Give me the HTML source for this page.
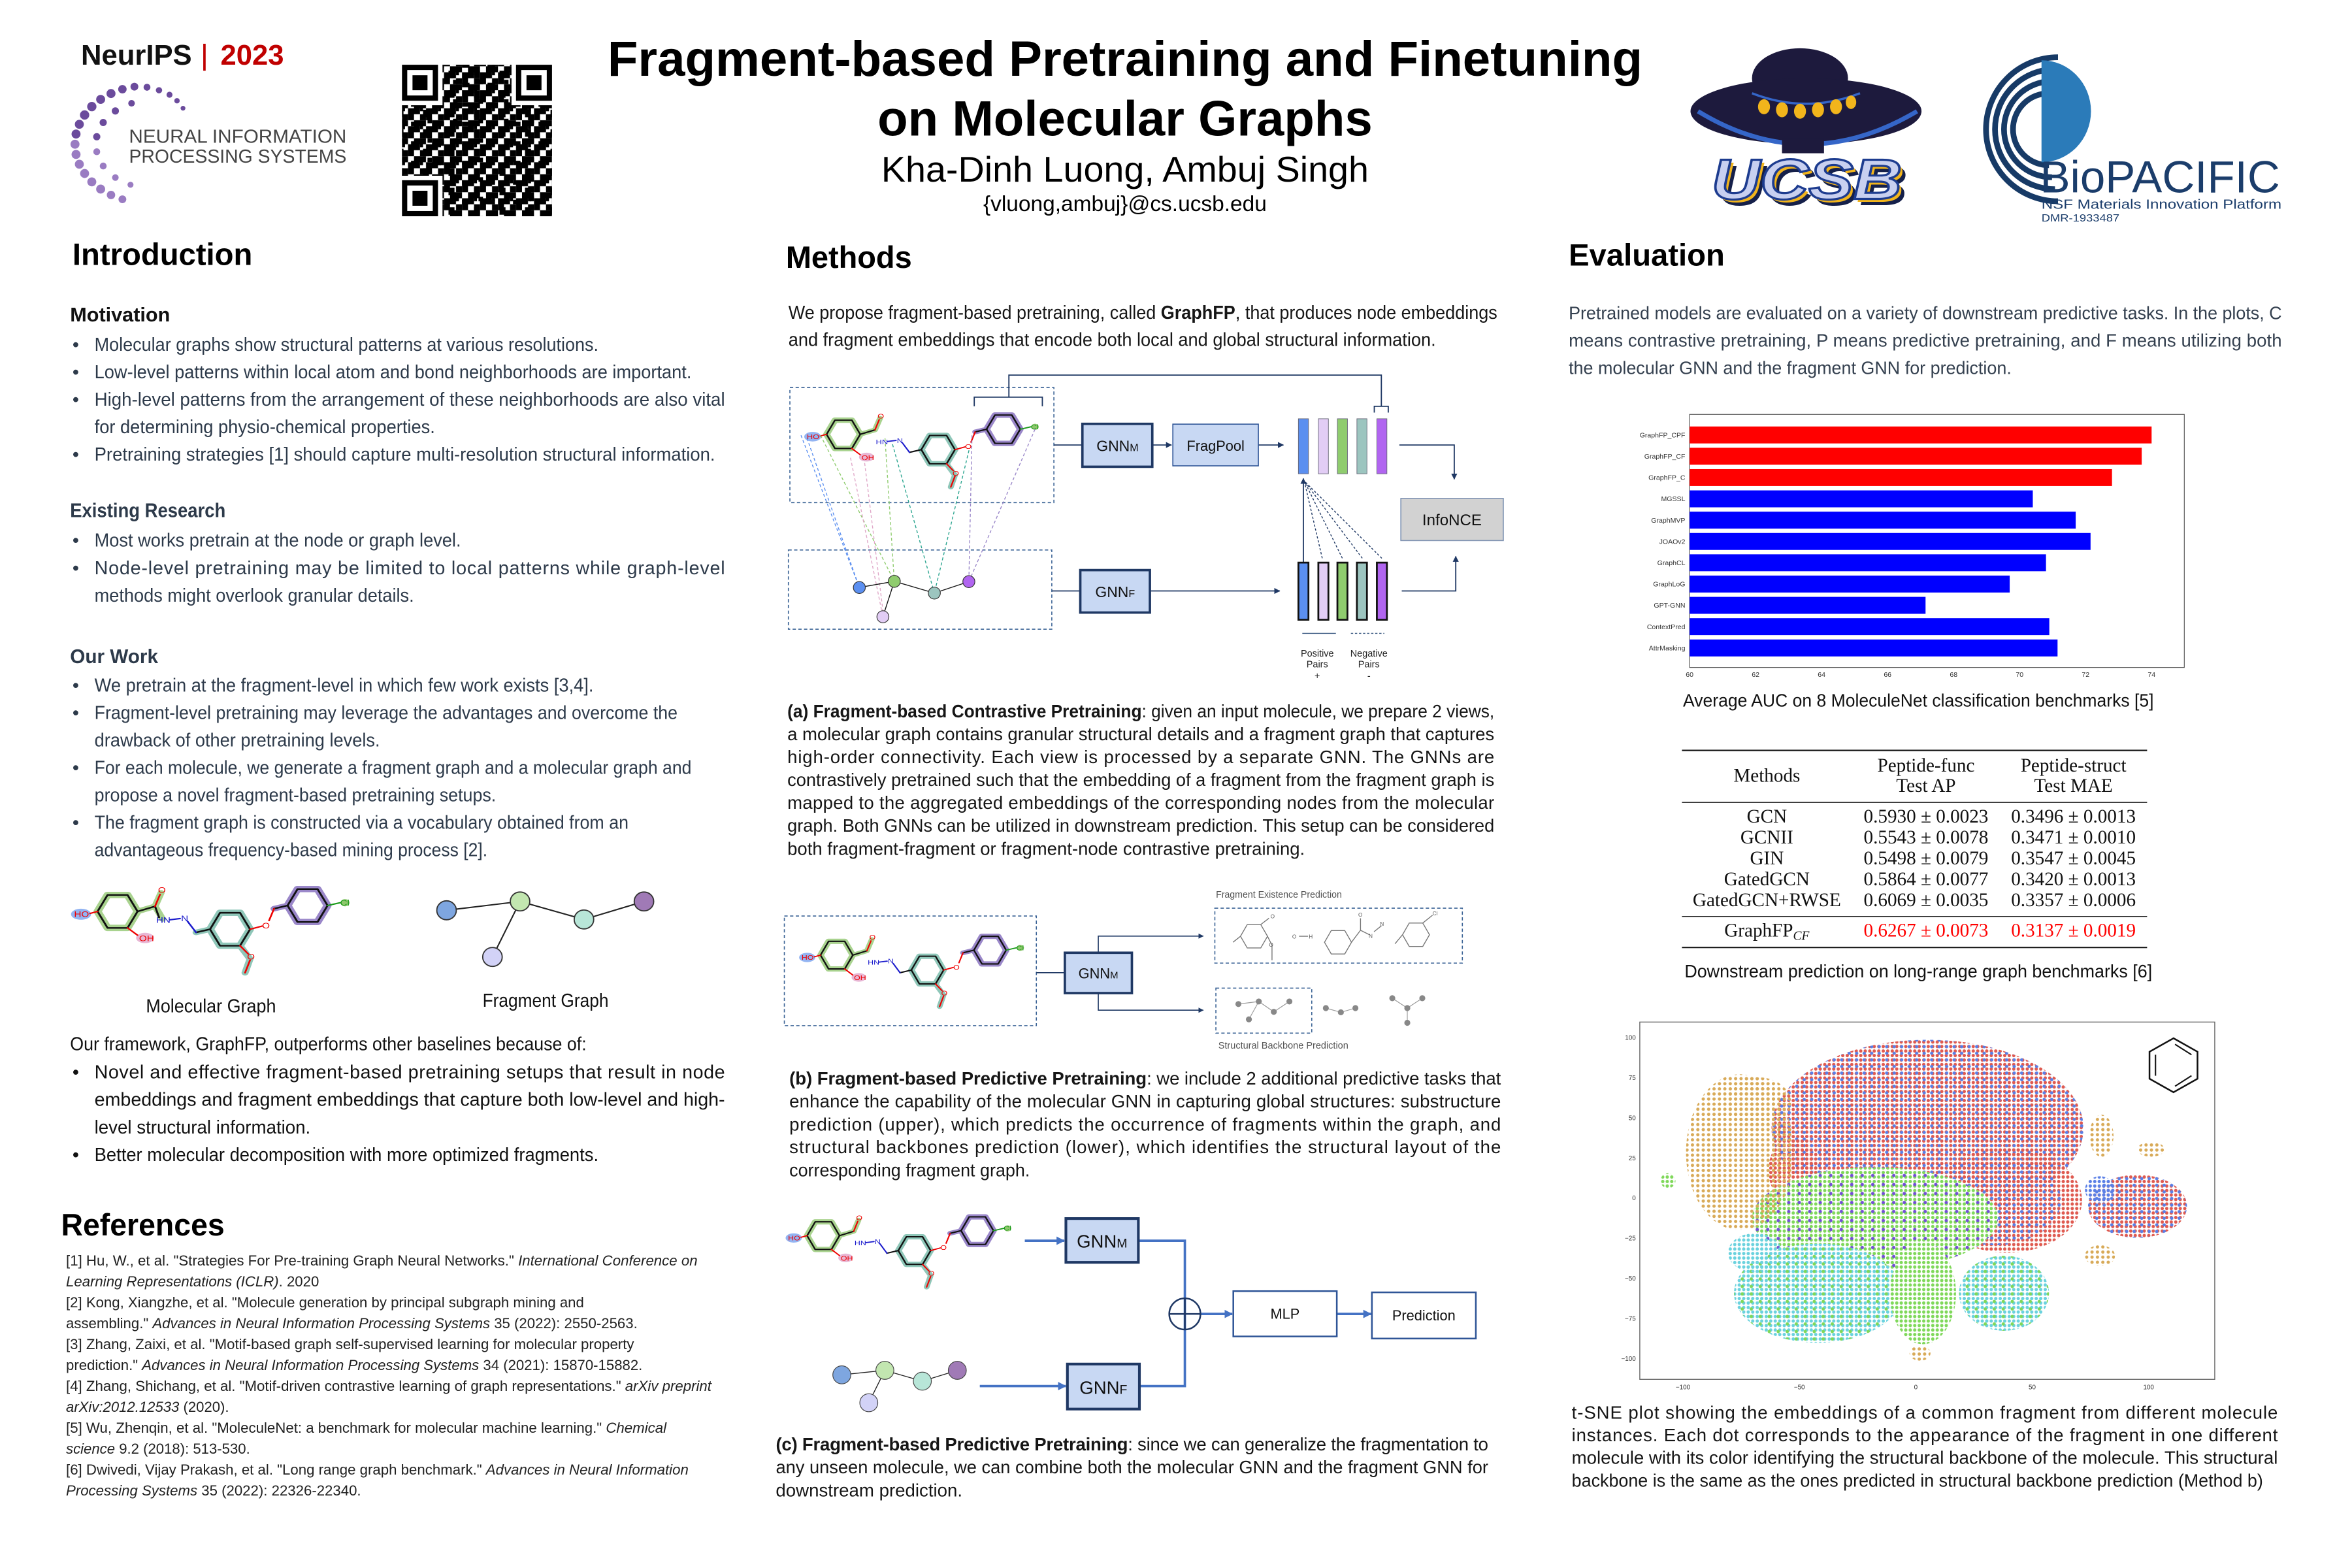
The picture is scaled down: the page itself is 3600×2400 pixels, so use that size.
<!DOCTYPE html>
<html><head><meta charset="utf-8">
<style>
html,body{margin:0;padding:0;background:#fff;width:3600px;height:2400px;overflow:hidden}
svg{display:block}
text{font-family:"Liberation Sans",Arial,sans-serif}
.body{font-size:12.5px;fill:#2d3a4a}
.cap{font-size:12px;fill:#161616}
.ref{font-size:9.6px;fill:#222}
.h{font-size:20.5px;font-weight:bold;fill:#000}
.sub{font-size:13.5px;font-weight:bold}
.ser text,text.ser{font-family:"Liberation Serif","Times New Roman",serif;font-size:12.7px}
.ser{fill:#111}
.tk{font-size:4.6px;fill:#333}
</style></head>
<body>
<svg width="3600" height="2400" viewBox="0 0 1568 1045" xmlns="http://www.w3.org/2000/svg">
<defs>
 <pattern id="qrp" width="12" height="12" patternUnits="userSpaceOnUse">
  <rect x="0" y="0" width="4" height="4"/><rect x="4" y="4" width="4" height="4"/><rect x="8" y="0" width="4" height="8"/>
  <rect x="0" y="8" width="8" height="4"/><rect x="4" y="0" width="2" height="2"/>
 </pattern>
 <pattern id="qrp2" width="17" height="13" patternUnits="userSpaceOnUse">
  <rect x="2" y="3" width="5" height="3"/><rect x="10" y="8" width="4" height="5"/><rect x="13" y="1" width="3" height="3"/>
 </pattern>
 <pattern id="pr" width="3" height="3" patternUnits="userSpaceOnUse"><circle cx="1.5" cy="1.5" r="1.1" fill="#df5a50"/></pattern>
 <pattern id="pb" width="3" height="3" patternUnits="userSpaceOnUse"><circle cx="1.5" cy="1.5" r="1.1" fill="#5a7fe6"/></pattern>
 <pattern id="pb5" width="5" height="4.4" patternUnits="userSpaceOnUse" patternTransform="translate(1.3,0.9)"><circle cx="1.5" cy="1.5" r="1.1" fill="#5a7fe6"/></pattern>
 <pattern id="pg" width="3" height="3" patternUnits="userSpaceOnUse"><circle cx="1.5" cy="1.5" r="1.1" fill="#7fd85a"/></pattern>
 <pattern id="pg6" width="6" height="5" patternUnits="userSpaceOnUse" patternTransform="translate(2,1)"><circle cx="1.5" cy="1.5" r="1.1" fill="#7fd85a"/></pattern>
 <pattern id="pp7" width="7" height="6" patternUnits="userSpaceOnUse" patternTransform="translate(1,2)"><circle cx="1.5" cy="1.5" r="1.1" fill="#7350d6"/></pattern>
 <pattern id="pc" width="3" height="3" patternUnits="userSpaceOnUse"><circle cx="1.5" cy="1.5" r="1.1" fill="#6ad2de"/></pattern>
 <pattern id="pt" width="3.6" height="3.4" patternUnits="userSpaceOnUse"><circle cx="1.5" cy="1.5" r="1.1" fill="#d8aa58"/></pattern>
 <marker id="ar" viewBox="0 0 6 6" refX="5.5" refY="3" markerWidth="5" markerHeight="5" orient="auto"><path d="M0,0 L6,3 L0,6 Z" fill="#1f3864"/></marker>
 <marker id="arb" viewBox="0 0 6 6" refX="5.5" refY="3" markerWidth="3.5" markerHeight="3.5" orient="auto"><path d="M0,0 L6,3 L0,6 Z" fill="#4472c4"/></marker>
</defs>

<!-- ============ HEADER ============ -->
<text x="54" y="43" font-size="19" font-weight="bold" fill="#111">NeurIPS</text>
<rect x="135.5" y="29" width="1.6" height="18" fill="#c00000"/>
<text x="147" y="43" font-size="19" font-weight="bold" fill="#c00000">2023</text>
<g fill="#6b4b9c">
<circle cx="89.6" cy="57.6" r="2.6"/><circle cx="81.6" cy="59.3" r="2.8"/><circle cx="74" cy="62.2" r="3"/><circle cx="67.1" cy="66.1" r="3"/><circle cx="61.2" cy="70.9" r="3.1"/><circle cx="56.4" cy="76.5" r="3.1"/><circle cx="52.9" cy="82.7" r="3"/><circle cx="50.7" cy="89.2" r="3"/>
<circle cx="98" cy="58" r="2.3"/><circle cx="106" cy="60" r="2.1"/><circle cx="113" cy="63" r="2"/><circle cx="118" cy="67" r="1.8"/><circle cx="122" cy="72" r="1.6"/>
<circle cx="87.7" cy="68.7" r="2.2"/><circle cx="76.9" cy="73.8" r="2.4"/><circle cx="68.8" cy="81.5" r="2.4"/><circle cx="64.5" cy="91" r="2.4"/>
</g>
<g fill="#9a7cc2">
<circle cx="50" cy="96" r="3"/><circle cx="50.7" cy="102.8" r="3"/><circle cx="52.9" cy="109.3" r="3"/><circle cx="56.4" cy="115.5" r="3"/><circle cx="61.2" cy="121.1" r="3"/><circle cx="67.1" cy="125.9" r="3"/><circle cx="74" cy="129.8" r="2.8"/><circle cx="81.6" cy="132.7" r="2.6"/>
<circle cx="64.5" cy="101" r="2.3"/><circle cx="68.8" cy="110.5" r="2.3"/><circle cx="76.9" cy="118.2" r="2.2"/><circle cx="87" cy="123" r="2"/>
</g>
<text x="86" y="95" font-size="12.5" fill="#444" textLength="145" lengthAdjust="spacingAndGlyphs">NEURAL INFORMATION</text>
<text x="86" y="108.2" font-size="12.5" fill="#444" textLength="145" lengthAdjust="spacingAndGlyphs">PROCESSING SYSTEMS</text>
<!-- QR -->
<rect x="268" y="43" width="100" height="101" fill="url(#qrp)"/>
<rect x="268" y="43" width="100" height="101" fill="url(#qrp2)"/>
<g>
<rect x="266" y="41" width="29" height="29" fill="#fff"/><rect x="268" y="43" width="24" height="24"/><rect x="271.5" y="46.5" width="17" height="17" fill="#fff"/><rect x="275" y="50" width="10" height="10"/>
<rect x="341" y="41" width="29" height="29" fill="#fff"/><rect x="344" y="43" width="24" height="24"/><rect x="347.5" y="46.5" width="17" height="17" fill="#fff"/><rect x="351" y="50" width="10" height="10"/>
<rect x="266" y="117" width="29" height="29" fill="#fff"/><rect x="268" y="120" width="24" height="24"/><rect x="271.5" y="123.5" width="17" height="17" fill="#fff"/><rect x="275" y="127" width="10" height="10"/>
</g>
<!-- Title -->
<text x="750" y="50.3" font-size="33" font-weight="bold" text-anchor="middle" fill="#000" textLength="690" lengthAdjust="spacingAndGlyphs">Fragment-based Pretraining and Finetuning</text>
<text x="750" y="90.3" font-size="33" font-weight="bold" text-anchor="middle" fill="#000" textLength="330" lengthAdjust="spacingAndGlyphs">on Molecular Graphs</text>
<text x="750" y="121" font-size="24" text-anchor="middle" fill="#000" textLength="325" lengthAdjust="spacingAndGlyphs">Kha-Dinh Luong, Ambuj Singh</text>
<text x="750" y="140.5" font-size="14.5" text-anchor="middle" fill="#000" textLength="189" lengthAdjust="spacingAndGlyphs">{vluong,ambuj}@cs.ucsb.edu</text>
<!-- UCSB hat -->
<ellipse cx="1200" cy="52" rx="32" ry="20" fill="#1d1a3d"/>
<ellipse cx="1204" cy="74" rx="77" ry="22" fill="#1d1a3d"/>
<path d="M1132 74 Q1204 118 1278 74" stroke="#3566c8" stroke-width="3" fill="none"/>
<path d="M1168 62 Q1204 76 1240 62" stroke="#3566c8" stroke-width="1.5" fill="none"/>
<g fill="#f2b51c"><ellipse cx="1176" cy="71" rx="4" ry="5"/><ellipse cx="1188" cy="73" rx="4" ry="5"/><ellipse cx="1200" cy="74" rx="4" ry="5"/><ellipse cx="1212" cy="73" rx="4" ry="5"/><ellipse cx="1224" cy="71" rx="4" ry="5"/><ellipse cx="1234" cy="68" rx="3.5" ry="4.5"/></g>
<rect x="1188" y="92" width="28" height="10" fill="#1d1a3d"/>
<text x="1145" y="136.5" font-size="38" font-weight="bold" font-style="italic" fill="#15204a" textLength="127" lengthAdjust="spacingAndGlyphs">UCSB</text>
<text x="1143" y="134.5" font-size="38" font-weight="bold" font-style="italic" fill="#f2b51c" textLength="127" lengthAdjust="spacingAndGlyphs">UCSB</text>
<text x="1141" y="132.5" font-size="38" font-weight="bold" font-style="italic" fill="#c8d0f0" stroke="#1d3c8f" stroke-width="1.4" textLength="127" lengthAdjust="spacingAndGlyphs">UCSB</text>
<!-- BioPACIFIC -->
<g fill="none" stroke="#173a66" stroke-width="3.8">
<path d="M1372 38 A48 48 0 1 0 1372 134"/>
<path d="M1370 46 A40 40 0 1 0 1370 126"/>
<path d="M1368 54 A32 32 0 1 0 1368 118"/>
<path d="M1366 62 A24 24 0 1 0 1366 110"/>
</g>
<path d="M1361 40 A33 34 0 0 1 1361 108 Z" fill="#2b7bb9"/>
<text x="1360" y="128" font-size="30" fill="#1b3d6b" textLength="160" lengthAdjust="spacingAndGlyphs">BioPACIFIC</text>
<text x="1361" y="139" font-size="9" fill="#1b3d6b" textLength="160" lengthAdjust="spacingAndGlyphs">NSF Materials Innovation Platform</text>
<text x="1361" y="147.5" font-size="7" fill="#1b3d6b" textLength="52" lengthAdjust="spacingAndGlyphs">DMR-1933487</text>

<!-- ============ INTRODUCTION ============ -->
<text class="h" x="48.3" y="176.5" textLength="120" lengthAdjust="spacingAndGlyphs">Introduction</text>
<text class="sub" x="46.7" y="214.1" fill="#111" textLength="66.7" lengthAdjust="spacingAndGlyphs">Motivation</text>
<g class="body">
<text x="48.3" y="233.7">•</text><text x="63" y="233.7" textLength="336" lengthAdjust="spacingAndGlyphs">Molecular graphs show structural patterns at various resolutions.</text>
<text x="48.3" y="252">•</text><text x="63" y="252" textLength="398" lengthAdjust="spacingAndGlyphs">Low-level patterns within local atom and bond neighborhoods are important.</text>
<text x="48.3" y="270.4">•</text><text x="63" y="270.4" textLength="420.3" lengthAdjust="spacingAndGlyphs">High-level patterns from the arrangement of these neighborhoods are also vital</text>
<text x="63" y="288.7" textLength="227" lengthAdjust="spacingAndGlyphs">for determining physio-chemical properties.</text>
<text x="48.3" y="307">•</text><text x="63" y="307" textLength="413.7" lengthAdjust="spacingAndGlyphs">Pretraining strategies [1] should capture multi-resolution structural information.</text>
</g>
<text class="sub" x="46.7" y="344.6" fill="#2d3a4a" textLength="103.7" lengthAdjust="spacingAndGlyphs">Existing Research</text>
<g class="body">
<text x="48.3" y="364.2">•</text><text x="63" y="364.2" textLength="244.3" lengthAdjust="spacingAndGlyphs">Most works pretrain at the node or graph level.</text>
<text x="48.3" y="382.6">•</text><text x="63" y="382.6" textLength="420.3" lengthAdjust="spacing">Node-level pretraining may be limited to local patterns while graph-level</text>
<text x="63" y="400.9" textLength="213" lengthAdjust="spacingAndGlyphs">methods might overlook granular details.</text>
</g>
<text class="sub" x="46.7" y="441.9" fill="#2d3a4a" textLength="58.7" lengthAdjust="spacingAndGlyphs">Our Work</text>
<g class="body">
<text x="48.3" y="460.9">•</text><text x="63" y="460.9" textLength="332.7" lengthAdjust="spacingAndGlyphs">We pretrain at the fragment-level in which few work exists [3,4].</text>
<text x="48.3" y="479.2">•</text><text x="63" y="479.2" textLength="388.7" lengthAdjust="spacingAndGlyphs">Fragment-level pretraining may leverage the advantages and overcome the</text>
<text x="63" y="497.5" textLength="190.3" lengthAdjust="spacingAndGlyphs">drawback of other pretraining levels.</text>
<text x="48.3" y="515.8">•</text><text x="63" y="515.8" textLength="398" lengthAdjust="spacingAndGlyphs">For each molecule, we generate a fragment graph and a molecular graph and</text>
<text x="63" y="534.1" textLength="267.7" lengthAdjust="spacingAndGlyphs">propose a novel fragment-based pretraining setups.</text>
<text x="48.3" y="552.4">•</text><text x="63" y="552.4" textLength="356" lengthAdjust="spacingAndGlyphs">The fragment graph is constructed via a vocabulary obtained from an</text>
<text x="63" y="570.7" textLength="262" lengthAdjust="spacingAndGlyphs">advantageous frequency-based mining process [2].</text>
</g>

<!-- Molecule (intro) -->
<svg x="46.7" y="589" width="190" height="62" viewBox="140 15 570 235" preserveAspectRatio="none">
<g fill="none" stroke-linecap="round" stroke-linejoin="round">
<ellipse cx="162" cy="92" rx="20" ry="14" fill="#93b4f2" stroke="none"/><ellipse cx="290" cy="152" rx="18" ry="13" fill="#e8b6d4" stroke="none"/>
<polygon points="275,85 255,126.6 215,126.6 195,85 215,43.4 255,43.4" stroke="#a9d38f" stroke-width="16"/>
<polyline points="275,85 310,72 322,38" stroke="#a9d38f" stroke-width="14"/><polyline points="310,72 325,104" stroke="#a9d38f" stroke-width="14"/>
<polygon points="500,130 480,171.6 440,171.6 420,130 440,88.4 480,88.4" stroke="#8fc7b9" stroke-width="16"/>
<polyline points="392,138 420,130" stroke="#8fc7b9" stroke-width="14"/><polyline points="480,171.6 500,205 490,240" stroke="#8fc7b9" stroke-width="14"/>
<polygon points="655,70 635,111.6 595,111.6 575,70 595,28.4 635,28.4" stroke="#9a87c9" stroke-width="16"/>
<polyline points="548,78 575,70" stroke="#9a87c9" stroke-width="14"/><circle cx="690" cy="63" r="9" fill="#8fc76d" stroke="none"/>
<g stroke="#111" stroke-width="4">
<polygon points="275,85 255,126.6 215,126.6 195,85 215,43.4 255,43.4"/>
<polyline points="275,85 310,72"/><polyline points="310,72 318,100"/><polyline points="392,138 420,130"/>
<polygon points="500,130 480,171.6 440,171.6 420,130 440,88.4 480,88.4"/>
<polyline points="548,78 575,70"/>
<polygon points="655,70 635,111.6 595,111.6 575,70 595,28.4 635,28.4"/>
</g>
<g stroke="#e00" stroke-width="3.5"><polyline points="195,85 180,90"/><polyline points="255,126.6 275,145"/><polyline points="310,72 320,42"/><polyline points="500,130 524,122"/><polyline points="538,108 548,78"/><polyline points="480,171.6 496,192"/><polyline points="500,208 490,240"/></g>
<g stroke="#1a1acc" stroke-width="3.5"><polyline points="340,106 360,103"/><polyline points="375,110 392,138"/></g>
<polyline points="655,70 680,63" stroke="#1a9a1a" stroke-width="3.5"/>
</g>
<g font-size="20" font-family="Liberation Sans,sans-serif">
<text x="148" y="99" fill="#e00">HO</text><text x="278" y="160" fill="#e00">OH</text><text x="316" y="38" fill="#e00">O</text>
<text x="312" y="114" fill="#1a1acc">HN</text><text x="362" y="110" fill="#1a1acc">N</text>
<text x="524" y="128" fill="#e00">O</text><text x="494" y="206" fill="#e00">O</text><text x="680" y="70" fill="#1a9a1a">Cl</text>
</g>
</svg>
<!-- Fragment graph (intro) -->
<g stroke="#222" stroke-width="0.9"><line x1="297.7" y1="606.7" x2="346.7" y2="600.8"/><line x1="346.7" y1="600.8" x2="389.3" y2="612.8"/><line x1="389.3" y1="612.8" x2="429.3" y2="600.8"/><line x1="346.7" y1="600.8" x2="328.3" y2="637.8"/></g>
<g stroke="#333" stroke-width="0.8">
<ellipse cx="297.7" cy="606.7" rx="6.5" ry="6.3" fill="#7ea6e0"/><ellipse cx="346.7" cy="600.8" rx="6.5" ry="6.3" fill="#c2e6b0"/><ellipse cx="389.3" cy="612.8" rx="6.5" ry="6.3" fill="#b8e6d8"/><ellipse cx="429.3" cy="600.8" rx="6.5" ry="6.3" fill="#a07ab6"/><ellipse cx="328.3" cy="637.8" rx="6.5" ry="6.3" fill="#d2d2f7"/>
</g>
<text x="97.3" y="674.7" font-size="12.5" fill="#111" textLength="86.7" lengthAdjust="spacingAndGlyphs">Molecular Graph</text>
<text x="321.7" y="671.1" font-size="12.5" fill="#111" textLength="84" lengthAdjust="spacingAndGlyphs">Fragment Graph</text>
<g class="body" style="fill:#111">
<text x="46.7" y="700.1" textLength="344.3" lengthAdjust="spacingAndGlyphs">Our framework, GraphFP, outperforms other baselines because of:</text>
<text x="48.3" y="718.8">•</text><text x="63" y="718.8" textLength="420.3" lengthAdjust="spacing">Novel and effective fragment-based pretraining setups that result in node</text>
<text x="63" y="737.1" textLength="420.3" lengthAdjust="spacing">embeddings and fragment embeddings that capture both low-level and high-</text>
<text x="63" y="755.5" textLength="144" lengthAdjust="spacingAndGlyphs">level structural information.</text>
<text x="48.3" y="773.8">•</text><text x="63" y="773.8" textLength="336" lengthAdjust="spacingAndGlyphs">Better molecular decomposition with more optimized fragments.</text>
</g>
<!-- References -->
<text class="h" x="40.7" y="823.5" textLength="109" lengthAdjust="spacingAndGlyphs">References</text>
<g class="ref">
<text x="44" y="843.5" textLength="421" lengthAdjust="spacingAndGlyphs">[1] Hu, W., et al. "Strategies For Pre-training Graph Neural Networks." <tspan font-style="italic">International Conference on</tspan></text>
<text x="44" y="857.4" textLength="168.7" lengthAdjust="spacingAndGlyphs"><tspan font-style="italic">Learning Representations (ICLR)</tspan>. 2020</text>
<text x="44" y="871.4" textLength="345.3" lengthAdjust="spacingAndGlyphs">[2] Kong, Xiangzhe, et al. "Molecule generation by principal subgraph mining and</text>
<text x="44" y="885.3" textLength="381" lengthAdjust="spacingAndGlyphs">assembling." <tspan font-style="italic">Advances in Neural Information Processing Systems</tspan> 35 (2022): 2550-2563.</text>
<text x="44" y="899.3" textLength="378.7" lengthAdjust="spacingAndGlyphs">[3] Zhang, Zaixi, et al. "Motif-based graph self-supervised learning for molecular property</text>
<text x="44" y="913.2" textLength="384.3" lengthAdjust="spacingAndGlyphs">prediction." <tspan font-style="italic">Advances in Neural Information Processing Systems</tspan> 34 (2021): 15870-15882.</text>
<text x="44" y="927.1" textLength="430.3" lengthAdjust="spacingAndGlyphs">[4] Zhang, Shichang, et al. "Motif-driven contrastive learning of graph representations." <tspan font-style="italic">arXiv preprint</tspan></text>
<text x="44" y="941.1" textLength="108.7" lengthAdjust="spacingAndGlyphs"><tspan font-style="italic">arXiv:2012.12533</tspan> (2020).</text>
<text x="44" y="955" textLength="400.3" lengthAdjust="spacingAndGlyphs">[5] Wu, Zhenqin, et al. "MoleculeNet: a benchmark for molecular machine learning." <tspan font-style="italic">Chemical</tspan></text>
<text x="44" y="969" textLength="122.7" lengthAdjust="spacingAndGlyphs"><tspan font-style="italic">science</tspan> 9.2 (2018): 513-530.</text>
<text x="44" y="982.9" textLength="415" lengthAdjust="spacingAndGlyphs">[6] Dwivedi, Vijay Prakash, et al. "Long range graph benchmark." <tspan font-style="italic">Advances in Neural Information</tspan></text>
<text x="44" y="996.9" textLength="196.7" lengthAdjust="spacingAndGlyphs"><tspan font-style="italic">Processing Systems</tspan> 35 (2022): 22326-22340.</text>
</g>

<!-- ============ METHODS ============ -->
<text class="h" x="523.9" y="178.5" textLength="84" lengthAdjust="spacingAndGlyphs">Methods</text>
<g class="cap" style="font-size:12.3px">
<text x="525.6" y="212.3" textLength="472.6" lengthAdjust="spacingAndGlyphs">We propose fragment-based pretraining, called <tspan font-weight="bold">GraphFP</tspan>, that produces node embeddings</text>
<text x="525.6" y="230.4" textLength="431.6" lengthAdjust="spacingAndGlyphs">and fragment embeddings that encode both local and global structural information.</text>
</g>
<!-- Diagram (a) -->
<rect x="526.6" y="258.2" width="176" height="76.7" fill="none" stroke="#3c6496" stroke-width="0.7" stroke-dasharray="2.2,1.6"/>
<rect x="525.6" y="366.5" width="175.6" height="52.8" fill="none" stroke="#3c6496" stroke-width="0.7" stroke-dasharray="2.2,1.6"/>
<g fill="none" stroke="#1f3864" stroke-width="0.8">
<polyline points="672.6,264.6 672.6,249.9 920.9,249.9 920.9,270.7"/>
<polyline points="649.5,270.7 649.5,264.6 694.9,264.6 694.9,270.7"/>
<polyline points="916.2,274.9 916.2,270.7 925.5,270.7 925.5,274.9"/>
</g>
<svg x="535.6" y="273.5" width="160" height="53.3" viewBox="140 15 570 235" preserveAspectRatio="none">
<g fill="none" stroke-linecap="round" stroke-linejoin="round">
<ellipse cx="162" cy="92" rx="20" ry="14" fill="#93b4f2" stroke="none"/><ellipse cx="290" cy="152" rx="18" ry="13" fill="#e8b6d4" stroke="none"/>
<polygon points="275,85 255,126.6 215,126.6 195,85 215,43.4 255,43.4" stroke="#a9d38f" stroke-width="16"/>
<polyline points="275,85 310,72 322,38" stroke="#a9d38f" stroke-width="14"/>
<polygon points="500,130 480,171.6 440,171.6 420,130 440,88.4 480,88.4" stroke="#8fc7b9" stroke-width="16"/>
<polyline points="480,171.6 500,205 490,240" stroke="#8fc7b9" stroke-width="14"/>
<polygon points="655,70 635,111.6 595,111.6 575,70 595,28.4 635,28.4" stroke="#9a87c9" stroke-width="16"/>
<polyline points="548,78 575,70" stroke="#9a87c9" stroke-width="14"/><circle cx="690" cy="63" r="9" fill="#8fc76d" stroke="none"/>
<g stroke="#111" stroke-width="4">
<polygon points="275,85 255,126.6 215,126.6 195,85 215,43.4 255,43.4"/><polyline points="275,85 310,72"/><polyline points="392,138 420,130"/>
<polygon points="500,130 480,171.6 440,171.6 420,130 440,88.4 480,88.4"/><polyline points="548,78 575,70"/>
<polygon points="655,70 635,111.6 595,111.6 575,70 595,28.4 635,28.4"/></g>
<g stroke="#e00" stroke-width="3.5"><polyline points="195,85 180,90"/><polyline points="255,126.6 275,145"/><polyline points="310,72 320,42"/><polyline points="500,130 524,122"/><polyline points="538,108 548,78"/><polyline points="480,171.6 496,192"/><polyline points="500,208 490,240"/></g>
<g stroke="#1a1acc" stroke-width="3.5"><polyline points="340,106 360,103"/><polyline points="375,110 392,138"/></g>
<polyline points="655,70 680,63" stroke="#1a9a1a" stroke-width="3.5"/>
</g>
<g font-size="20" font-family="Liberation Sans,sans-serif"><text x="148" y="99" fill="#e00">HO</text><text x="278" y="160" fill="#e00">OH</text><text x="316" y="38" fill="#e00">O</text><text x="312" y="114" fill="#1a1acc">HN</text><text x="362" y="110" fill="#1a1acc">N</text><text x="524" y="128" fill="#e00">O</text><text x="494" y="206" fill="#e00">O</text><text x="680" y="70" fill="#1a9a1a">Cl</text></g>
</svg>
<!-- dashed correspondences -->
<g fill="none" stroke-width="0.6" stroke-dasharray="2,1.5">
<line x1="534" y1="290" x2="572.9" y2="391.5" stroke="#5b8ff0"/><line x1="538" y1="292" x2="572" y2="389" stroke="#5b8ff0"/>
<line x1="547" y1="290" x2="596.2" y2="387.4" stroke="#8fcc6e"/><line x1="590" y1="292" x2="596.2" y2="387.4" stroke="#8fcc6e"/>
<line x1="567" y1="305" x2="588.6" y2="411" stroke="#e0a7c8"/><line x1="576" y1="305" x2="589" y2="410" stroke="#e0a7c8"/>
<line x1="595" y1="296" x2="622.9" y2="395.2" stroke="#2aa58f"/><line x1="646" y1="300" x2="622.9" y2="395.2" stroke="#2aa58f"/>
<line x1="648" y1="290" x2="645.9" y2="387.6" stroke="#9a87c9"/><line x1="690" y1="286" x2="645.9" y2="387.6" stroke="#9a87c9"/>
</g>
<g stroke="#111" stroke-width="0.6"><line x1="572.9" y1="391.5" x2="596.2" y2="387.4"/><line x1="596.2" y1="387.4" x2="622.9" y2="395.2"/><line x1="622.9" y1="395.2" x2="645.9" y2="387.6"/><line x1="596.2" y1="387.4" x2="588.6" y2="411"/></g>
<g stroke="#333" stroke-width="0.5"><circle cx="572.9" cy="391.5" r="4" fill="#5b8ff0"/><circle cx="596.2" cy="387.4" r="4" fill="#8fcc6e"/><circle cx="622.9" cy="395.2" r="4" fill="#9cc5bf"/><circle cx="645.9" cy="387.6" r="4" fill="#b165f0"/><circle cx="588.6" cy="411" r="4" fill="#e2cdf5"/></g>
<!-- flow -->
<g fill="none" stroke="#1f3864" stroke-width="0.8">
<line x1="702.6" y1="296.5" x2="721.6" y2="296.5"/>
<line x1="768.2" y1="296.5" x2="781" y2="296.5" marker-end="url(#ar)"/>
<line x1="838.9" y1="296.5" x2="855.6" y2="296.5" marker-end="url(#ar)"/>
<line x1="701.2" y1="393.8" x2="720.2" y2="393.8"/>
<line x1="766.6" y1="393.8" x2="853.2" y2="393.8" marker-end="url(#ar)"/>
<polyline points="932.9,296.5 969.5,296.5 969.5,319.3" marker-end="url(#ar)"/>
<polyline points="934.5,393.8 970.5,393.8 970.5,370.7" marker-end="url(#ar)"/>
<line x1="868.9" y1="374.9" x2="868.9" y2="318.8" marker-end="url(#ar)"/>
</g>
<g fill="none" stroke="#1f3864" stroke-width="0.6" stroke-dasharray="1.5,1.2">
<line x1="881.5" y1="372" x2="869.5" y2="320.5"/><line x1="894.9" y1="372" x2="869.5" y2="320.5"/><line x1="908.2" y1="372" x2="869.5" y2="320.5"/><line x1="921.2" y1="372" x2="869.5" y2="320.5"/>
</g>
<rect x="721.6" y="282.4" width="46.6" height="28.6" fill="#c8d8f3" stroke="#1f3864" stroke-width="1.6"/>
<text x="745" y="300.5" font-size="10" text-anchor="middle" fill="#111">GNN<tspan font-size="7">M</tspan></text>
<rect x="781.9" y="282.6" width="57" height="27.8" fill="#c8d8f3" stroke="#2f5597" stroke-width="0.7"/>
<text x="810.4" y="300.3" font-size="9.5" text-anchor="middle" fill="#111">FragPool</text>
<rect x="720.2" y="379.9" width="46.4" height="28.3" fill="#c8d8f3" stroke="#1f3864" stroke-width="1.6"/>
<text x="743.4" y="398" font-size="10" text-anchor="middle" fill="#111">GNN<tspan font-size="7">F</tspan></text>
<rect x="933.9" y="332.1" width="68.3" height="28.1" fill="#d2d2d2" stroke="#7f93b3" stroke-width="0.7"/>
<text x="968" y="350" font-size="10.5" text-anchor="middle" fill="#111">InfoNCE</text>
<g stroke="#667" stroke-width="0.4">
<rect x="865.6" y="279" width="6.7" height="36.7" fill="#5b8ff0"/><rect x="878.9" y="279" width="6.7" height="36.7" fill="#e2cdf5"/><rect x="891.6" y="279" width="6.7" height="36.7" fill="#8fcc6e"/><rect x="904.6" y="279" width="6.7" height="36.7" fill="#9cc5bf"/><rect x="917.9" y="279" width="6.7" height="36.7" fill="#b165f0"/>
</g>
<g stroke="#111" stroke-width="1.2">
<rect x="865.6" y="374.9" width="6.7" height="38.1" fill="#5b8ff0"/><rect x="878.9" y="374.9" width="6.7" height="38.1" fill="#e2cdf5"/><rect x="891.6" y="374.9" width="6.7" height="38.1" fill="#8fcc6e"/><rect x="904.6" y="374.9" width="6.7" height="38.1" fill="#9cc5bf"/><rect x="917.9" y="374.9" width="6.7" height="38.1" fill="#b165f0"/>
</g>
<line x1="868.2" y1="422.1" x2="890.6" y2="422.1" stroke="#3c5a82" stroke-width="0.6"/>
<line x1="900.6" y1="422.1" x2="922.9" y2="422.1" stroke="#3c5a82" stroke-width="0.6" stroke-dasharray="1.5,1.2"/>
<g font-size="6.3" fill="#222" text-anchor="middle">
<text x="878.2" y="437.5">Positive</text><text x="878.2" y="444.7">Pairs</text><text x="878.2" y="452.5">+</text>
<text x="912.6" y="437.5">Negative</text><text x="912.6" y="444.7">Pairs</text><text x="912.6" y="452.5">-</text>
</g>
<g class="cap">
<text x="524.9" y="478" textLength="471.3" lengthAdjust="spacingAndGlyphs"><tspan font-weight="bold">(a) Fragment-based Contrastive Pretraining</tspan>: given an input molecule, we prepare 2 views,</text>
<text x="524.9" y="493.3" textLength="471.3" lengthAdjust="spacing">a molecular graph contains granular structural details and a fragment graph that captures</text>
<text x="524.9" y="508.6" textLength="471.3" lengthAdjust="spacing">high-order connectivity. Each view is processed by a separate GNN. The GNNs are</text>
<text x="524.9" y="523.8" textLength="471.3" lengthAdjust="spacingAndGlyphs">contrastively pretrained such that the embedding of a fragment from the fragment graph is</text>
<text x="524.9" y="539.1" textLength="471.3" lengthAdjust="spacing">mapped to the aggregated embeddings of the corresponding nodes from the molecular</text>
<text x="524.9" y="554.4" textLength="471.3" lengthAdjust="spacingAndGlyphs">graph. Both GNNs can be utilized in downstream prediction. This setup can be considered</text>
<text x="524.9" y="569.7" textLength="345" lengthAdjust="spacingAndGlyphs">both fragment-fragment or fragment-node contrastive pretraining.</text>
</g>

<!-- Diagram (b) -->
<rect x="522.9" y="610.5" width="168" height="73.1" fill="none" stroke="#3c6496" stroke-width="0.7" stroke-dasharray="2.2,1.6"/>
<svg x="532.2" y="621.1" width="153.4" height="52" viewBox="140 15 570 235" preserveAspectRatio="none">
<g fill="none" stroke-linecap="round" stroke-linejoin="round">
<ellipse cx="162" cy="92" rx="20" ry="14" fill="#93b4f2" stroke="none"/><ellipse cx="290" cy="152" rx="18" ry="13" fill="#e8b6d4" stroke="none"/>
<polygon points="275,85 255,126.6 215,126.6 195,85 215,43.4 255,43.4" stroke="#a9d38f" stroke-width="16"/>
<polyline points="275,85 310,72 322,38" stroke="#a9d38f" stroke-width="14"/>
<polygon points="500,130 480,171.6 440,171.6 420,130 440,88.4 480,88.4" stroke="#8fc7b9" stroke-width="16"/>
<polyline points="480,171.6 500,205 490,240" stroke="#8fc7b9" stroke-width="14"/>
<polygon points="655,70 635,111.6 595,111.6 575,70 595,28.4 635,28.4" stroke="#9a87c9" stroke-width="16"/>
<polyline points="548,78 575,70" stroke="#9a87c9" stroke-width="14"/><circle cx="690" cy="63" r="9" fill="#8fc76d" stroke="none"/>
<g stroke="#111" stroke-width="4">
<polygon points="275,85 255,126.6 215,126.6 195,85 215,43.4 255,43.4"/><polyline points="275,85 310,72"/><polyline points="392,138 420,130"/>
<polygon points="500,130 480,171.6 440,171.6 420,130 440,88.4 480,88.4"/><polyline points="548,78 575,70"/>
<polygon points="655,70 635,111.6 595,111.6 575,70 595,28.4 635,28.4"/></g>
<g stroke="#e00" stroke-width="3.5"><polyline points="195,85 180,90"/><polyline points="255,126.6 275,145"/><polyline points="310,72 320,42"/><polyline points="500,130 524,122"/><polyline points="538,108 548,78"/><polyline points="480,171.6 496,192"/><polyline points="500,208 490,240"/></g>
<g stroke="#1a1acc" stroke-width="3.5"><polyline points="340,106 360,103"/><polyline points="375,110 392,138"/></g>
<polyline points="655,70 680,63" stroke="#1a9a1a" stroke-width="3.5"/>
</g>
<g font-size="20" font-family="Liberation Sans,sans-serif"><text x="148" y="99" fill="#e00">HO</text><text x="278" y="160" fill="#e00">OH</text><text x="316" y="38" fill="#e00">O</text><text x="312" y="114" fill="#1a1acc">HN</text><text x="362" y="110" fill="#1a1acc">N</text><text x="524" y="128" fill="#e00">O</text><text x="494" y="206" fill="#e00">O</text><text x="680" y="70" fill="#1a9a1a">Cl</text></g>
</svg>
<g fill="none" stroke="#1f3864" stroke-width="0.7">
<line x1="690.9" y1="648.3" x2="709.9" y2="648.3"/>
<polyline points="732.2,635 732.2,623.9 802.2,623.9" marker-end="url(#ar)"/>
<polyline points="732.2,661.9 732.2,673.3 802.2,673.3" marker-end="url(#ar)"/>
</g>
<rect x="709.9" y="635" width="44.7" height="26.9" fill="#c8d8f3" stroke="#1f3864" stroke-width="1.6"/>
<text x="732.2" y="652" font-size="9.5" text-anchor="middle" fill="#111">GNN<tspan font-size="6.5">M</tspan></text>
<text x="810.6" y="598.3" font-size="6.4" fill="#555" textLength="84" lengthAdjust="spacingAndGlyphs">Fragment Existence Prediction</text>
<rect x="809.9" y="605.3" width="165" height="36.6" fill="none" stroke="#3c6496" stroke-width="0.7" stroke-dasharray="2.2,1.6"/>
<g fill="none" stroke="#777" stroke-width="0.6">
<polygon points="845,624 840.5,631.8 831.5,631.8 827,624 831.5,616.2 840.5,616.2"/><line x1="840.5" y1="616.2" x2="846" y2="612"/><line x1="845" y1="624" x2="848" y2="630"/><line x1="848" y1="630" x2="848" y2="640"/><line x1="827" y1="624" x2="822" y2="628"/>
<line x1="866" y1="624" x2="872" y2="624"/>
<polygon points="901,628 896.5,635.8 887.5,635.8 883,628 887.5,620.2 896.5,620.2"/><line x1="901" y1="628" x2="907" y2="620"/><line x1="907" y1="620" x2="907" y2="612"/><line x1="907" y1="620" x2="913" y2="623"/><line x1="916" y1="621" x2="921" y2="617"/>
<polygon points="953,623 948.5,630.8 939.5,630.8 935,623 939.5,615.2 948.5,615.2"/><line x1="948.5" y1="615.2" x2="955" y2="610"/><line x1="935" y1="623" x2="930" y2="629"/>
</g>
<g font-size="3.6" fill="#555"><text x="847" y="612">O</text><text x="846" y="631">O</text><text x="861.5" y="625.5">O</text><text x="872.5" y="625.5">H</text><text x="905.5" y="611">O</text><text x="912.5" y="625">N</text><text x="920" y="617">N</text><text x="955" y="610">Cl</text></g>
<rect x="810.6" y="658.6" width="63.9" height="30" fill="none" stroke="#3c6496" stroke-width="0.7" stroke-dasharray="2.2,1.6"/>
<g stroke="#999" stroke-width="0.5" fill="none"><polyline points="825.6,669.2 839.2,667.5 849.2,674.4 859.6,667.5"/><line x1="839.2" y1="667.5" x2="832.6" y2="679.4"/><polyline points="883.9,671.9 893.9,674.7 903.6,671.9"/><line x1="928.2" y1="665.3" x2="938.2" y2="671.9"/><line x1="948.2" y1="665.3" x2="938.2" y2="671.9"/><line x1="938.2" y1="671.9" x2="938.2" y2="681.7"/></g>
<g fill="#888"><circle cx="825.6" cy="669.2" r="2"/><circle cx="839.2" cy="667.5" r="2"/><circle cx="849.2" cy="674.4" r="2"/><circle cx="859.6" cy="667.5" r="2"/><circle cx="832.6" cy="679.4" r="2"/><circle cx="883.9" cy="671.9" r="2"/><circle cx="893.9" cy="674.7" r="2"/><circle cx="903.6" cy="671.9" r="2"/><circle cx="928.2" cy="665.3" r="2"/><circle cx="938.2" cy="671.9" r="2"/><circle cx="948.2" cy="665.3" r="2"/><circle cx="938.2" cy="681.7" r="2"/></g>
<text x="812.2" y="699" font-size="6.4" fill="#555" textLength="86.7" lengthAdjust="spacingAndGlyphs">Structural Backbone Prediction</text>
<g class="cap">
<text x="526.2" y="722.9" textLength="474.4" lengthAdjust="spacing"><tspan font-weight="bold">(b) Fragment-based Predictive Pretraining</tspan>: we include 2 additional predictive tasks that</text>
<text x="526.2" y="738.2" textLength="474.4" lengthAdjust="spacing">enhance the capability of the molecular GNN in capturing global structures: substructure</text>
<text x="526.2" y="753.5" textLength="474.4" lengthAdjust="spacing">prediction (upper), which predicts the occurrence of fragments within the graph, and</text>
<text x="526.2" y="768.7" textLength="474.4" lengthAdjust="spacing">structural backbones prediction (lower), which identifies the structural layout of the</text>
<text x="526.2" y="784" textLength="160.4" lengthAdjust="spacingAndGlyphs">corresponding fragment graph.</text>
</g>

<!-- Diagram (c) -->
<svg x="523.2" y="808.1" width="154" height="52" viewBox="140 15 570 235" preserveAspectRatio="none">
<g fill="none" stroke-linecap="round" stroke-linejoin="round">
<ellipse cx="162" cy="92" rx="20" ry="14" fill="#93b4f2" stroke="none"/><ellipse cx="290" cy="152" rx="18" ry="13" fill="#e8b6d4" stroke="none"/>
<polygon points="275,85 255,126.6 215,126.6 195,85 215,43.4 255,43.4" stroke="#a9d38f" stroke-width="16"/>
<polyline points="275,85 310,72 322,38" stroke="#a9d38f" stroke-width="14"/>
<polygon points="500,130 480,171.6 440,171.6 420,130 440,88.4 480,88.4" stroke="#8fc7b9" stroke-width="16"/>
<polyline points="480,171.6 500,205 490,240" stroke="#8fc7b9" stroke-width="14"/>
<polygon points="655,70 635,111.6 595,111.6 575,70 595,28.4 635,28.4" stroke="#9a87c9" stroke-width="16"/>
<polyline points="548,78 575,70" stroke="#9a87c9" stroke-width="14"/><circle cx="690" cy="63" r="9" fill="#8fc76d" stroke="none"/>
<g stroke="#111" stroke-width="4">
<polygon points="275,85 255,126.6 215,126.6 195,85 215,43.4 255,43.4"/><polyline points="275,85 310,72"/><polyline points="392,138 420,130"/>
<polygon points="500,130 480,171.6 440,171.6 420,130 440,88.4 480,88.4"/><polyline points="548,78 575,70"/>
<polygon points="655,70 635,111.6 595,111.6 575,70 595,28.4 635,28.4"/></g>
<g stroke="#e00" stroke-width="3.5"><polyline points="195,85 180,90"/><polyline points="255,126.6 275,145"/><polyline points="310,72 320,42"/><polyline points="500,130 524,122"/><polyline points="538,108 548,78"/><polyline points="480,171.6 496,192"/><polyline points="500,208 490,240"/></g>
<g stroke="#1a1acc" stroke-width="3.5"><polyline points="340,106 360,103"/><polyline points="375,110 392,138"/></g>
<polyline points="655,70 680,63" stroke="#1a9a1a" stroke-width="3.5"/>
</g>
<g font-size="20" font-family="Liberation Sans,sans-serif"><text x="148" y="99" fill="#e00">HO</text><text x="278" y="160" fill="#e00">OH</text><text x="316" y="38" fill="#e00">O</text><text x="312" y="114" fill="#1a1acc">HN</text><text x="362" y="110" fill="#1a1acc">N</text><text x="524" y="128" fill="#e00">O</text><text x="494" y="206" fill="#e00">O</text><text x="680" y="70" fill="#1a9a1a">Cl</text></g>
</svg>
<g stroke="#222" stroke-width="0.6"><line x1="561.2" y1="916.4" x2="589.9" y2="913.4"/><line x1="589.9" y1="913.4" x2="614.9" y2="920.6"/><line x1="614.9" y1="920.6" x2="638.2" y2="913.4"/><line x1="589.9" y1="913.4" x2="579.2" y2="935"/></g>
<g stroke="#444" stroke-width="0.5"><circle cx="561.2" cy="916.4" r="6" fill="#7ea6e0"/><circle cx="589.9" cy="913.4" r="6" fill="#c2e6b0"/><circle cx="614.9" cy="920.6" r="6" fill="#b8e6d8"/><circle cx="638.2" cy="913.4" r="6" fill="#a07ab6"/><circle cx="579.2" cy="935" r="6" fill="#d2d2f7"/></g>
<g fill="none" stroke="#4472c4" stroke-width="1.6">
<line x1="683.2" y1="827" x2="709.5" y2="827" marker-end="url(#arb)"/>
<line x1="653.2" y1="923.9" x2="710.5" y2="923.9" marker-end="url(#arb)"/>
<polyline points="758.9,827 789.9,827 789.9,923.9 759.6,923.9"/>
<line x1="800.5" y1="875.8" x2="821.5" y2="875.8" marker-end="url(#arb)"/>
<line x1="891.2" y1="875.8" x2="914" y2="875.8" marker-end="url(#arb)"/>
</g>
<circle cx="789.9" cy="875.8" r="10.4" fill="none" stroke="#1f3864" stroke-width="1.1"/>
<line x1="779.5" y1="875.8" x2="800.3" y2="875.8" stroke="#1f3864" stroke-width="1.1"/>
<line x1="789.9" y1="865.4" x2="789.9" y2="886.2" stroke="#1f3864" stroke-width="1.1"/>
<rect x="710.6" y="812.2" width="48.3" height="29.2" fill="#c8d8f3" stroke="#1f3864" stroke-width="1.8"/>
<text x="734.7" y="831.5" font-size="12" text-anchor="middle" fill="#111">GNN<tspan font-size="8.5">M</tspan></text>
<rect x="711.6" y="909.2" width="48" height="30" fill="#c8d8f3" stroke="#1f3864" stroke-width="1.8"/>
<text x="735.6" y="929" font-size="12" text-anchor="middle" fill="#111">GNN<tspan font-size="8.5">F</tspan></text>
<rect x="822.2" y="860.6" width="69" height="30.2" fill="#fff" stroke="#2f5597" stroke-width="1.1"/>
<text x="856.7" y="879" font-size="9.5" text-anchor="middle" fill="#111">MLP</text>
<rect x="914.6" y="861.4" width="69.3" height="30.8" fill="#fff" stroke="#2f5597" stroke-width="1.1"/>
<text x="949.2" y="880" font-size="9.5" text-anchor="middle" fill="#111">Prediction</text>
<g class="cap">
<text x="517.2" y="966.8" textLength="475" lengthAdjust="spacing"><tspan font-weight="bold">(c) Fragment-based Predictive Pretraining</tspan>: since we can generalize the fragmentation to</text>
<text x="517.2" y="982.1" textLength="475" lengthAdjust="spacingAndGlyphs">any unseen molecule, we can combine both the molecular GNN and the fragment GNN for</text>
<text x="517.2" y="997.4" textLength="124.4" lengthAdjust="spacingAndGlyphs">downstream prediction.</text>
</g>

<!-- ============ EVALUATION ============ -->
<text class="h" x="1045.8" y="176.8" textLength="104" lengthAdjust="spacingAndGlyphs">Evaluation</text>
<g class="cap" style="fill:#34404f">
<text x="1045.8" y="212.5" textLength="475.4" lengthAdjust="spacingAndGlyphs">Pretrained models are evaluated on a variety of downstream predictive tasks. In the plots, C</text>
<text x="1045.8" y="230.8" textLength="475.4" lengthAdjust="spacing">means contrastive pretraining, P means predictive pretraining, and F means utilizing both</text>
<text x="1045.8" y="249.1" textLength="295.2" lengthAdjust="spacingAndGlyphs">the molecular GNN and the fragment GNN for prediction.</text>
</g>
<!-- bar chart -->
<rect x="1126.4" y="276.1" width="329.8" height="168.7" fill="#fff" stroke="#555" stroke-width="0.5"/>
<g fill="#ff0000">
<rect x="1126.4" y="284.15" width="308" height="11.3"/><rect x="1126.4" y="298.35" width="301.4" height="11.3"/><rect x="1126.4" y="312.55" width="281.6" height="11.3"/>
</g>
<g fill="#0000ff">
<rect x="1126.4" y="326.75" width="228.8" height="11.3"/><rect x="1126.4" y="340.95" width="257.4" height="11.3"/><rect x="1126.4" y="355.15" width="267.3" height="11.3"/><rect x="1126.4" y="369.35" width="237.6" height="11.3"/><rect x="1126.4" y="383.55" width="213.4" height="11.3"/><rect x="1126.4" y="397.75" width="157.3" height="11.3"/><rect x="1126.4" y="411.95" width="239.8" height="11.3"/><rect x="1126.4" y="426.15" width="245.3" height="11.3"/>
</g>
<g class="tk" text-anchor="end">
<text x="1123.5" y="291.4">GraphFP_CPF</text><text x="1123.5" y="305.6">GraphFP_CF</text><text x="1123.5" y="319.8">GraphFP_C</text><text x="1123.5" y="334">MGSSL</text><text x="1123.5" y="348.2">GraphMVP</text><text x="1123.5" y="362.4">JOAOv2</text><text x="1123.5" y="376.6">GraphCL</text><text x="1123.5" y="390.8">GraphLoG</text><text x="1123.5" y="405">GPT-GNN</text><text x="1123.5" y="419.2">ContextPred</text><text x="1123.5" y="433.4">AttrMasking</text>
</g>
<g class="tk" text-anchor="middle">
<text x="1126.4" y="451">60</text><text x="1170.4" y="451">62</text><text x="1214.4" y="451">64</text><text x="1258.4" y="451">66</text><text x="1302.4" y="451">68</text><text x="1346.4" y="451">70</text><text x="1390.4" y="451">72</text><text x="1434.4" y="451">74</text>
</g>
<text x="1122" y="470.8" font-size="12" fill="#111" textLength="313.8" lengthAdjust="spacingAndGlyphs">Average AUC on 8 MoleculeNet classification benchmarks [5]</text>
<!-- table -->
<g stroke="#111"><line x1="1121.3" y1="500.1" x2="1431.4" y2="500.1" stroke-width="0.9"/><line x1="1121.3" y1="534.8" x2="1431.4" y2="534.8" stroke-width="0.6"/><line x1="1121.3" y1="610.8" x2="1431.4" y2="610.8" stroke-width="0.6"/><line x1="1121.3" y1="631.5" x2="1431.4" y2="631.5" stroke-width="0.9"/></g>
<g class="ser" text-anchor="middle">
<text x="1177.9" y="521">Methods</text>
<text x="1284" y="514.3">Peptide-func</text><text x="1284" y="527.7">Test AP</text>
<text x="1382.3" y="514.3">Peptide-struct</text><text x="1382.3" y="527.7">Test MAE</text>
<text x="1177.9" y="548.3">GCN</text><text x="1284" y="548.3">0.5930 ± 0.0023</text><text x="1382.3" y="548.3">0.3496 ± 0.0013</text>
<text x="1177.9" y="562.2">GCNII</text><text x="1284" y="562.2">0.5543 ± 0.0078</text><text x="1382.3" y="562.2">0.3471 ± 0.0010</text>
<text x="1177.9" y="576.1">GIN</text><text x="1284" y="576.1">0.5498 ± 0.0079</text><text x="1382.3" y="576.1">0.3547 ± 0.0045</text>
<text x="1177.9" y="590">GatedGCN</text><text x="1284" y="590">0.5864 ± 0.0077</text><text x="1382.3" y="590">0.3420 ± 0.0013</text>
<text x="1177.9" y="603.9">GatedGCN+RWSE</text><text x="1284" y="603.9">0.6069 ± 0.0035</text><text x="1382.3" y="603.9">0.3357 ± 0.0006</text>
<text x="1177.9" y="624.3">GraphFP<tspan font-style="italic" font-size="8.5" dy="2">CF</tspan></text>
<text x="1284" y="624.3" style="fill:#ff0000">0.6267 ± 0.0073</text><text x="1382.3" y="624.3" style="fill:#ff0000">0.3137 ± 0.0019</text>
</g>
<text x="1123" y="651.5" font-size="12" fill="#111" textLength="311.8" lengthAdjust="spacingAndGlyphs">Downstream prediction on long-range graph benchmarks [6]</text>

<!-- t-SNE -->
<rect x="1093.2" y="681.2" width="383.3" height="238.2" fill="#fff" stroke="#666" stroke-width="0.6"/>
<g>
<ellipse cx="1285" cy="752" rx="104" ry="59" fill="url(#pr)"/>
<ellipse cx="1285" cy="752" rx="104" ry="59" fill="url(#pb5)"/>
<ellipse cx="1338" cy="800" rx="50" ry="35" fill="url(#pr)"/>
<ellipse cx="1330" cy="800" rx="44" ry="30" fill="url(#pb5)"/>
<ellipse cx="1195" cy="780" rx="16" ry="22" fill="url(#pr)"/>
<ellipse cx="1250" cy="812" rx="82" ry="34" fill="#fff"/>
<ellipse cx="1250" cy="812" rx="82" ry="34" fill="url(#pg)"/>
<ellipse cx="1250" cy="812" rx="82" ry="34" fill="url(#pp7)"/>
<ellipse cx="1160" cy="768" rx="36" ry="52" fill="url(#pt)"/>
<ellipse cx="1172" cy="735" rx="22" ry="17" fill="url(#pt)"/>
<ellipse cx="1212" cy="862" rx="56" ry="33" fill="#fff"/>
<ellipse cx="1212" cy="862" rx="56" ry="33" fill="url(#pc)"/>
<ellipse cx="1212" cy="862" rx="56" ry="33" fill="url(#pg6)"/>
<ellipse cx="1170" cy="835" rx="18" ry="13" fill="url(#pc)"/>
<ellipse cx="1282" cy="862" rx="22" ry="34" fill="#fff"/>
<ellipse cx="1282" cy="862" rx="22" ry="34" fill="url(#pg)"/>
<ellipse cx="1336" cy="862" rx="30" ry="25" fill="#fff"/>
<ellipse cx="1336" cy="862" rx="30" ry="25" fill="url(#pc)"/>
<ellipse cx="1336" cy="862" rx="30" ry="25" fill="url(#pg6)"/>
<ellipse cx="1425" cy="804" rx="33" ry="21" fill="url(#pr)"/>
<ellipse cx="1425" cy="804" rx="33" ry="21" fill="url(#pb5)"/>
<ellipse cx="1400" cy="793" rx="10" ry="9" fill="url(#pb)"/>
<ellipse cx="1434" cy="766" rx="9" ry="5" fill="url(#pt)"/>
<ellipse cx="1401" cy="757" rx="8" ry="14" fill="url(#pt)"/>
<ellipse cx="1400" cy="837" rx="10" ry="7" fill="url(#pt)"/>
<ellipse cx="1280" cy="902" rx="7" ry="5" fill="url(#pt)"/>
<ellipse cx="1112" cy="787" rx="5" ry="5" fill="url(#pg)"/>
</g>
<polygon points="1449,692 1465,701 1465,719 1449,728 1433,719 1433,701" fill="none" stroke="#111" stroke-width="1.1"/>
<line x1="1437" y1="703" x2="1437" y2="717" stroke="#111" stroke-width="0.9"/><line x1="1450" y1="696" x2="1461" y2="703" stroke="#111" stroke-width="0.9"/><line x1="1450" y1="724" x2="1461" y2="717" stroke="#111" stroke-width="0.9"/>
<g class="tk" style="font-size:4.3px" text-anchor="end">
<text x="1090.5" y="693">100</text><text x="1090.5" y="719.8">75</text><text x="1090.5" y="746.5">50</text><text x="1090.5" y="773.3">25</text><text x="1090.5" y="800">0</text><text x="1090.5" y="826.8">−25</text><text x="1090.5" y="853.5">−50</text><text x="1090.5" y="880.3">−75</text><text x="1090.5" y="907">−100</text>
</g>
<g class="tk" style="font-size:4.3px" text-anchor="middle">
<text x="1122" y="926">−100</text><text x="1199.6" y="926">−50</text><text x="1277.2" y="926">0</text><text x="1354.8" y="926">50</text><text x="1432.4" y="926">100</text>
</g>
<g class="cap">
<text x="1047.8" y="945.6" textLength="470.7" lengthAdjust="spacing">t-SNE plot showing the embeddings of a common fragment from different molecule</text>
<text x="1047.8" y="960.7" textLength="470.7" lengthAdjust="spacing">instances. Each dot corresponds to the appearance of the fragment in one different</text>
<text x="1047.8" y="975.8" textLength="470.7" lengthAdjust="spacingAndGlyphs">molecule with its color identifying the structural backbone of the molecule. This structural</text>
<text x="1047.8" y="990.9" textLength="460.9" lengthAdjust="spacingAndGlyphs">backbone is the same as the ones predicted in structural backbone prediction (Method b)</text>
</g>
</svg>
</body></html>
